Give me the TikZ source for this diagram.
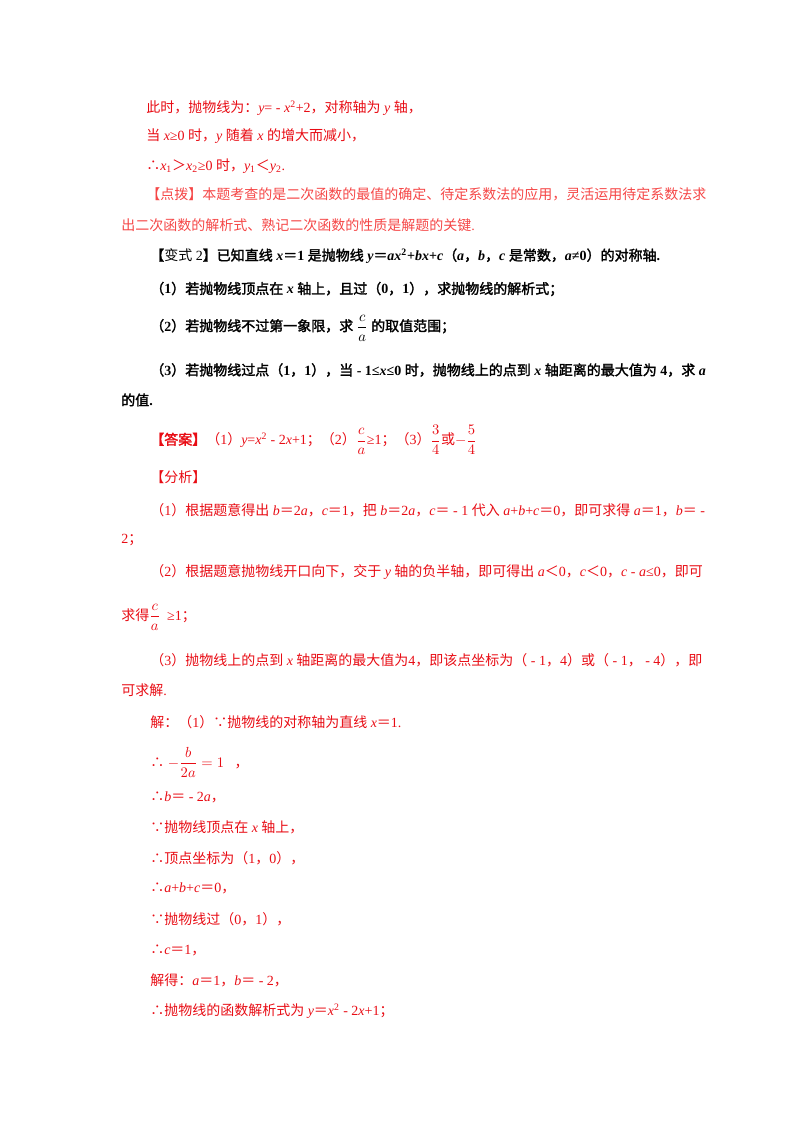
\documentclass[tikz,border=0pt]{standalone}
\usepackage{fontspec}
\setmainfont{Liberation Serif}
\newfontfamily\cjk{Noto Sans CJK SC}[BoldFont={Noto Sans CJK SC},BoldFeatures={FakeBold=2}]
\XeTeXinterchartokenstate=1
\newXeTeXintercharclass\CJKcls
\newcount\mycnt
\mycnt="3000 \loop \XeTeXcharclass\mycnt=\CJKcls \advance\mycnt by 1 \ifnum\mycnt<"3040 \repeat
\mycnt="4E00 \loop \XeTeXcharclass\mycnt=\CJKcls \advance\mycnt by 1 \ifnum\mycnt<"A000 \repeat
\mycnt="FF00 \loop \XeTeXcharclass\mycnt=\CJKcls \advance\mycnt by 1 \ifnum\mycnt<"FFF0 \repeat
\XeTeXcharclass"2234=\CJKcls
\XeTeXcharclass"2235=\CJKcls
\XeTeXinterchartoks 0 \CJKcls = {\cjk}
\XeTeXinterchartoks 4095 \CJKcls = {\cjk}
\XeTeXinterchartoks \CJKcls 0 = {\rmfamily}
\XeTeXinterchartoks \CJKcls 4095 = {\rmfamily}
\newcommand\mi[1]{{\rmfamily\itshape #1}}
\definecolor{rd}{RGB}{232,12,20}
\definecolor{pk}{RGB}{245,70,70}
\begin{document}
\begin{tikzpicture}[x=0.75pt,y=-0.75pt,
  txt/.style={anchor=west,inner sep=0pt,font=\fontsize{10.5pt}{12pt}\selectfont,text=rd},
  pkt/.style={txt,text=pk},
  bk/.style={txt,text=black,font=\fontsize{10.5pt}{12pt}\selectfont\bfseries}]
\useasboundingbox (0,0) rectangle (800,1132);
\node[txt] (l1) at (146,108) {此时，抛物线为：\mi{y}= - \mi{x}\textsuperscript{2}+2，对称轴为 \mi{y} 轴，};
\node[txt] (l2) at (146,136) {当 \mi{x}≥0 时，\mi{y} 随着 \mi{x} 的增大而减小，};
\node[txt] (l3) at (146,166) {∴\mi{x}\textsubscript{1}＞\mi{x}\textsubscript{2}≥0 时，\mi{y}\textsubscript{1}＜\mi{y}\textsubscript{2}.};
\node[pkt] (l4) at (146,194) {【点拨】本题考查的是二次函数的最值的确定、待定系数法的应用，灵活运用待定系数法求};
\node[pkt] (l5) at (121,225) {出二次函数的解析式、熟记二次函数的性质是解题的关键.};
\node[bk] (l6) at (150,256) {【{\mdseries 变式 2}】已知直线 \mi{x}＝1 是抛物线 \mi{y}＝\mi{ax}\textsuperscript{2}+\mi{bx}+\mi{c}（\mi{a}，\mi{b}，\mi{c} 是常数，\mi{a}≠0）的对称轴.};
\node[bk] (l7) at (150,289) {（1）若抛物线顶点在 \mi{x} 轴上，且过（0，1），求抛物线的解析式；};
\node[bk] (l8) at (150,328) {（2）若抛物线不过第一象限，求 $\displaystyle\frac{c}{a}$ 的取值范围；};
\node[bk] (l9) at (150,370) {（3）若抛物线过点（1，1），当 - 1≤\mi{x}≤0 时，抛物线上的点到 \mi{x} 轴距离的最大值为 4，求 \mi{a}};
\node[bk] (l10) at (121,400) {的值.};
\node[txt] (l11) at (150,440) {{\bfseries 【答案】}（1）\mi{y}=\mi{x}\textsuperscript{2} - 2\mi{x}+1；（2）$\displaystyle\frac{c}{a}$≥1；（3）$\displaystyle\frac{3}{4}$或$\displaystyle-\frac{5}{4}$};
\node[txt] (l12) at (150,477) {【分析】};
\node[txt] (l13) at (150,510) {（1）根据题意得出 \mi{b}＝2\mi{a}，\mi{c}＝1，把 \mi{b}＝2\mi{a}，\mi{c}＝ - 1 代入 \mi{a}+\mi{b}+\mi{c}＝0，即可求得 \mi{a}＝1，\mi{b}＝ -};
\node[txt] (l14) at (121,540) {2；};
\node[txt] (l15) at (150,572) {（2）根据题意抛物线开口向下，交于 \mi{y} 轴的负半轴，即可得出 \mi{a}＜0，\mi{c}＜0，\mi{c} - \mi{a}≤0，即可};
\node[txt] (l16) at (121,617) {求得$\displaystyle\frac{c}{a}$\ \ ≥1；};
\node[txt] (l17) at (150,660) {（3）抛物线上的点到 \mi{x} 轴距离的最大值为4，即该点坐标为（ - 1，4）或（ - 1， - 4），即};
\node[txt] (l18) at (121,690) {可求解.};
\node[txt] (l19) at (150,722) {解：（1）∵抛物线的对称轴为直线 \mi{x}＝1.};
\node[txt] (l20) at (150,762) {∴ $\displaystyle-\frac{b}{2a}=1$ \ \ ，};
\node[txt] (l21) at (150,797) {∴\mi{b}＝ - 2\mi{a}，};
\node[txt] (l22) at (150,827) {∵抛物线顶点在 \mi{x} 轴上，};
\node[txt] (l23) at (150,858) {∴顶点坐标为（1，0），};
\node[txt] (l24) at (150,888) {∴\mi{a}+\mi{b}+\mi{c}＝0，};
\node[txt] (l25) at (150,919) {∵抛物线过（0，1），};
\node[txt] (l26) at (150,950) {∴\mi{c}＝1，};
\node[txt] (l27) at (150,980) {解得：\mi{a}＝1，\mi{b}＝ - 2，};
\node[txt] (l28) at (150,1011) {∴抛物线的函数解析式为 \mi{y}＝\mi{x}\textsuperscript{2} - 2\mi{x}+1；};
\end{tikzpicture}
\end{document}
